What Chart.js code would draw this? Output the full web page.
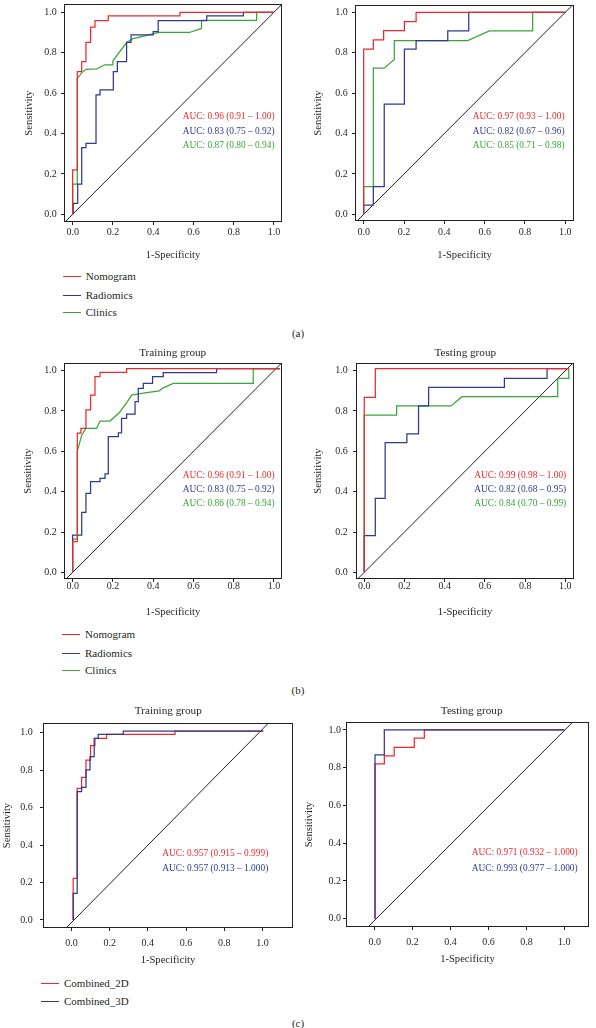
<!DOCTYPE html>
<html><head><meta charset="utf-8">
<script src="https://cdn.jsdelivr.net/npm/chart.js@4.4.0/dist/chart.umd.min.js"></script>
<style>
html,body{margin:0;padding:0;background:#fff;}
#root{position:relative;width:596px;height:1028px;overflow:hidden;font-family:"Liberation Serif","Times New Roman",serif;color:#231f20;}
canvas{position:absolute;}
.t{position:absolute;white-space:nowrap;line-height:1;transform:translateY(-50%);}
.c{position:absolute;white-space:nowrap;line-height:1;transform:translate(-50%,-50%);}
.lg{position:absolute;height:1px;}
</style></head><body><div id="root"></div>
<script>
// ---------- data ----------
const xTicks = [0, 0.2, 0.4, 0.6, 0.8, 1.0];
const yTicks = [0, 0.2, 0.4, 0.6, 0.8, 1.0];
const namesAB = ['Nomogram', 'Radiomics', 'Clinics'];
const namesC = ['Combined_2D', 'Combined_3D'];

// (a) left
const aTrainNomogram = [[0,0],[0,0.22],[0.023,0.22],[0.023,0.706],[0.045,0.706],[0.045,0.756],[0.066,0.756],[0.066,0.851],[0.089,0.851],[0.089,0.926],[0.111,0.926],[0.111,0.959],[0.177,0.959],[0.177,0.982],[0.533,0.982],[0.533,1],[1,1]];
const aTrainRadiomics = [[0.003,0],[0.003,0.054],[0.025,0.054],[0.025,0.149],[0.045,0.149],[0.045,0.33],[0.066,0.33],[0.066,0.351],[0.116,0.351],[0.116,0.591],[0.136,0.591],[0.136,0.616],[0.202,0.616],[0.202,0.706],[0.222,0.706],[0.222,0.756],[0.268,0.756],[0.268,0.851],[0.29,0.851],[0.29,0.888],[0.4,0.888],[0.4,0.904],[0.425,0.904],[0.425,0.959],[0.666,0.959],[0.666,0.982],[0.848,0.982],[0.848,1],[1,1]];
const aTrainClinics = [[0,0],[0,0.149],[0.023,0.149],[0.023,0.673],[0.045,0.7],[0.066,0.718],[0.12,0.72],[0.16,0.74],[0.2,0.74],[0.2,0.76],[0.268,0.85],[0.3,0.87],[0.43,0.9],[0.58,0.9],[0.64,0.92],[0.64,0.96],[0.914,0.96],[0.914,1],[1,1]];
// (a) right
const aTestNomogram = [[0,0],[0,0.818],[0.048,0.818],[0.048,0.863],[0.099,0.863],[0.099,0.909],[0.202,0.909],[0.202,0.954],[0.26,0.954],[0.26,1],[1,1]];
const aTestRadiomics = [[0,0],[0,0.046],[0.048,0.046],[0.048,0.137],[0.102,0.137],[0.102,0.545],[0.202,0.545],[0.202,0.818],[0.26,0.818],[0.26,0.86],[0.417,0.86],[0.417,0.908],[0.521,0.908],[0.521,1],[1,1]];
const aTestClinics = [[0,0],[0,0.137],[0.048,0.137],[0.048,0.723],[0.102,0.723],[0.152,0.767],[0.152,0.86],[0.516,0.86],[0.623,0.908],[0.838,0.908],[0.838,1],[1,1]];
// (b) left
const bTrainNomogram = [[0,0],[0,0.152],[0.023,0.152],[0.023,0.69],[0.041,0.69],[0.041,0.714],[0.066,0.714],[0.066,0.805],[0.089,0.805],[0.089,0.879],[0.111,0.879],[0.111,0.97],[0.136,0.97],[0.136,0.992],[0.268,0.992],[0.268,1.01],[1.03,1.01]];
const bTrainRadiomics = [[0,0],[0,0.185],[0.045,0.185],[0.045,0.297],[0.066,0.297],[0.066,0.392],[0.089,0.392],[0.089,0.45],[0.136,0.45],[0.136,0.466],[0.161,0.466],[0.161,0.488],[0.177,0.488],[0.177,0.673],[0.227,0.673],[0.227,0.692],[0.243,0.692],[0.243,0.764],[0.268,0.764],[0.268,0.785],[0.31,0.785],[0.31,0.846],[0.326,0.846],[0.326,0.912],[0.351,0.912],[0.351,0.937],[0.397,0.937],[0.397,0.97],[0.45,0.97],[0.45,0.99],[0.715,0.99],[0.715,1.01],[1.03,1.01]];
const bTrainClinics = [[0,0],[0,0.165],[0.023,0.165],[0.023,0.6],[0.045,0.68],[0.066,0.714],[0.119,0.714],[0.136,0.75],[0.185,0.75],[0.23,0.79],[0.268,0.84],[0.293,0.879],[0.36,0.89],[0.43,0.9],[0.45,0.915],[0.5,0.937],[0.897,0.937],[0.897,1.01],[1.03,1.01]];
// (b) right
const bTestNomogram = [[0,0],[0,0.868],[0.055,0.868],[0.055,1.01],[1.017,1.01]];
const bTestRadiomics = [[0,0],[0,0.182],[0.055,0.182],[0.055,0.367],[0.104,0.367],[0.104,0.643],[0.212,0.643],[0.212,0.686],[0.27,0.686],[0.27,0.825],[0.32,0.825],[0.32,0.917],[0.697,0.917],[0.697,0.962],[0.909,0.962],[0.909,1.01],[1.017,1.01]];
const bTestClinics = [[0,0],[0,0.78],[0.161,0.78],[0.161,0.825],[0.431,0.825],[0.486,0.871],[0.962,0.871],[0.962,0.962],[1.017,0.962],[1.017,1.01]];
// (c) left
const cTrain2D = [[0.009,0],[0.009,0.222],[0.03,0.222],[0.03,0.703],[0.053,0.703],[0.053,0.762],[0.076,0.762],[0.076,0.854],[0.1,0.854],[0.1,0.931],[0.123,0.931],[0.123,0.97],[0.184,0.97],[0.184,0.991],[0.542,0.991],[0.542,1.009],[1.004,1.009]];
const cTrain3D = [[0.009,0],[0.009,0.142],[0.03,0.142],[0.03,0.685],[0.053,0.685],[0.053,0.708],[0.076,0.708],[0.076,0.801],[0.097,0.801],[0.097,0.872],[0.119,0.872],[0.119,0.97],[0.14,0.97],[0.14,0.991],[0.271,0.991],[0.271,1.009],[1.004,1.009]];
// (c) right
const cTest2D = [[0.002,0],[0.002,0.82],[0.051,0.82],[0.051,0.862],[0.103,0.862],[0.103,0.908],[0.209,0.908],[0.209,0.956],[0.262,0.956],[0.262,1],[1,1]];
const cTest3D = [[0.002,0],[0.002,0.868],[0.051,0.868],[0.051,1],[1,1]];
// reference diagonals
const diagAB = [[-0.06,-0.06],[1.06,1.06]];
const diagCTrain = [[-0.029,-0.044],[1.03,1.05]];
const diagCTest = [[-0.037,-0.046],[1.044,1.041]];
// AUC labels
const aucATrain = ['AUC: 0.96 (0.91 – 1.00)', 'AUC: 0.83 (0.75 – 0.92)', 'AUC: 0.87 (0.80 – 0.94)'];
const aucATest = ['AUC: 0.97 (0.93 – 1.00)', 'AUC: 0.82 (0.67 – 0.96)', 'AUC: 0.85 (0.71 – 0.98)'];
const aucBTrain = ['AUC: 0.96 (0.91 – 1.00)', 'AUC: 0.83 (0.75 – 0.92)', 'AUC: 0.86 (0.78 – 0.94)'];
const aucBTest = ['AUC: 0.99 (0.98 – 1.00)', 'AUC: 0.82 (0.68 – 0.95)', 'AUC: 0.84 (0.70 – 0.99)'];
const aucCTrain = ['AUC: 0.957 (0.915 – 0.999)', 'AUC: 0.957 (0.913 – 1.000)'];
const aucCTest = ['AUC: 0.971 (0.932 – 1.000)', 'AUC: 0.993 (0.977 – 1.000)'];

// ---------- styling / layout ----------
const F = '"Liberation Serif","Times New Roman",serif';
const INK = '#231f20';
const RED = '#ec2a2e', BLUE = '#2f3a8e', GREEN = '#3aa53a';
const root = document.getElementById('root');

const framePlugin = {
  id: 'frame',
  afterDraw(c) {
    const a = c.chartArea, ctx = c.ctx;
    ctx.save();
    ctx.strokeStyle = INK; ctx.lineWidth = 1;
    ctx.strokeRect(Math.round(a.left) + 0.5, Math.round(a.top) + 0.5, Math.round(a.right - a.left) - 1, Math.round(a.bottom - a.top) - 1);
    ctx.restore();
  }
};

function makeChart(p) {
  const cv = document.createElement('canvas');
  cv.width = p.cw; cv.height = p.ch;
  Object.assign(cv.style, {left: p.cx + 'px', top: p.cy + 'px', width: p.cw + 'px', height: p.ch + 'px'});
  root.appendChild(cv);
  const datasets = [{data: p.diag.map(([x, y]) => ({x, y})), showLine: true, borderColor: INK, borderWidth: 1, pointRadius: 0, order: 10}];
  p.series.forEach(s => datasets.push({
    label: s.name, data: s.pts.map(([x, y]) => ({x, y})), showLine: true,
    borderColor: s.color, borderWidth: 1.25, pointRadius: 0, order: s.order
  }));
  const tickFont = {family: F, size: 10, lineHeight: 1};
  const titleFont = {family: F, size: 10.6, lineHeight: 1};
  new Chart(cv, {
    type: 'scatter',
    data: {datasets},
    options: {
      responsive: false, animation: false, devicePixelRatio: 1,
      layout: {padding: {left: 0, bottom: 0, top: p.box[1] - p.cy, right: p.cx + p.cw - p.box[2]}},
      elements: {line: {tension: 0}},
      plugins: {legend: {display: false}, tooltip: {enabled: false}},
      scales: {
        x: {
          type: 'linear', min: p.xr[0], max: p.xr[1],
          afterBuildTicks(s) { s.ticks = xTicks.map(v => ({value: v})); },
          afterFit(s) { s.height = p.cy + p.ch - p.box[3]; s.paddingLeft = 0; s.paddingRight = 0; },
          ticks: {font: tickFont, color: INK, padding: p.xtp, maxRotation: 0, autoSkip: false, callback: v => v.toFixed(1)},
          grid: {display: true, drawOnChartArea: false, drawTicks: true, tickLength: 3, tickColor: INK},
          border: {display: false},
          title: {display: true, text: '1-Specificity', font: titleFont, color: INK, padding: {top: 0, bottom: p.xtt}}
        },
        y: {
          type: 'linear', min: p.yr[0], max: p.yr[1],
          afterBuildTicks(s) { s.ticks = yTicks.map(v => ({value: v})); },
          afterFit(s) { s.width = p.box[0] - p.cx; s.paddingTop = 0; s.paddingBottom = 0; },
          ticks: {font: tickFont, color: INK, padding: p.ytp, autoSkip: false, callback: v => v.toFixed(1)},
          grid: {display: true, drawOnChartArea: false, drawTicks: true, tickLength: 3, tickColor: INK},
          border: {display: false},
          title: {display: true, text: 'Sensitivity', font: titleFont, color: INK, padding: {top: p.ytt, bottom: 0}}
        }
      }
    },
    plugins: [framePlugin]
  });
}

function text(str, x, y, size, color, centered) {
  const d = document.createElement('div');
  d.className = centered ? 'c' : 't';
  d.textContent = str;
  Object.assign(d.style, {left: x + 'px', top: y + 'px', fontSize: size + 'px', color: color || INK});
  root.appendChild(d);
}
function aucBlock(labels, colors, x, ys) {
  labels.forEach((l, i) => text(l, x, ys[i], 9.4, colors[i]));
}
function legend(names, colors, x0, x1, tx, ys) {
  names.forEach((n, i) => {
    const l = document.createElement('div');
    l.className = 'lg';
    Object.assign(l.style, {left: x0 + 'px', top: Math.round(ys[i]) + 'px', width: (x1 - x0) + 'px', background: colors[i]});
    root.appendChild(l);
    text(n, tx, ys[i], 11, INK);
  });
}

const colAB = [RED, BLUE, GREEN];
const colC = [RED, BLUE];
const ser = (arrs, names, cols, orders) => arrs.map((a, i) => ({name: names[i], pts: a, color: cols[i], order: orders[i]}));

// (a)
makeChart({cx: 0, cy: 0, cw: 298, ch: 268, box: [64, 4, 282, 222], xr: [-0.043, 1.04], yr: [-0.038, 1.041],
  ytp: 4.3, xtp: 2.3, ytt: 24, xtt: 7.7, diag: diagAB,
  series: ser([aTrainNomogram, aTrainRadiomics, aTrainClinics], namesAB, colAB, [1, 2, 3])});
makeChart({cx: 298, cy: 0, cw: 298, ch: 268, box: [355, 5, 574, 221], xr: [-0.043, 1.043], yr: [-0.033, 1.036],
  ytp: 4.3, xtp: 3.3, ytt: 15.4, xtt: 7.7, diag: diagAB,
  series: ser([aTestNomogram, aTestRadiomics, aTestClinics], namesAB, colAB, [1, 2, 3])});
aucBlock(aucATrain, colAB, 182.7, [117.3, 131.7, 145.7]);
aucBlock(aucATest, colAB, 472.7, [117.3, 131.7, 145.7]);
legend(namesAB, colAB, 63, 81, 85.7, [276, 295, 311.7]);
text('(a)', 298, 333, 11, INK, true);

// (b)
makeChart({cx: 0, cy: 340, cw: 298, ch: 285, box: [64, 363, 282, 579], xr: [-0.043, 1.04], yr: [-0.033, 1.038],
  ytp: 4.3, xtp: -0.3, ytt: 23, xtt: 7, diag: diagAB,
  series: ser([bTrainNomogram, bTrainRadiomics, bTrainClinics], namesAB, colAB, [1, 2, 3])});
makeChart({cx: 298, cy: 340, cw: 298, ch: 285, box: [356, 363, 574, 579], xr: [-0.041, 1.043], yr: [-0.033, 1.038],
  ytp: 5.3, xtp: -0.3, ytt: 15.4, xtt: 7, diag: diagAB,
  series: ser([bTestNomogram, bTestRadiomics, bTestClinics], namesAB, colAB, [1, 2, 3])});
text('Training group', 172.7, 353.3, 11.2, INK, true);
text('Testing group', 465.3, 353.3, 11.2, INK, true);
aucBlock(aucBTrain, colAB, 182.7, [475.7, 490, 504]);
aucBlock(aucBTest, colAB, 474.3, [475.7, 489.7, 504]);
legend(namesAB, colAB, 62, 80, 85, [634.3, 653.3, 670]);
text('(b)', 298, 690, 11, INK, true);

// (c)
makeChart({cx: 0, cy: 715, cw: 298, ch: 260, box: [43, 723, 293, 928], xr: [-0.149, 1.16], yr: [-0.043, 1.052],
  ytp: 7.3, xtp: 7, ytt: 2, xtt: 9, diag: diagCTrain,
  series: ser([cTrain2D, cTrain3D], namesC, colC, [2, 1])});
makeChart({cx: 298, cy: 715, cw: 298, ch: 260, box: [346, 722, 589, 927], xr: [-0.151, 1.13], yr: [-0.044, 1.042],
  ytp: 2, xtp: 7.3, ytt: 6, xtt: 10, diag: diagCTest,
  series: ser([cTest2D, cTest3D], namesC, colC, [2, 1])});
text('Training group', 168.3, 711, 11.2, INK, true);
text('Testing group', 471.7, 711, 11.2, INK, true);
aucBlock(aucCTrain, colC, 162.3, [854, 869]);
aucBlock(aucCTest, colC, 471.7, [853.3, 869]);
legend(namesC, colC, 41, 59, 64, [983, 1001.3]);
text('(c)', 298, 1023, 11, INK, true);
</script></body></html>
